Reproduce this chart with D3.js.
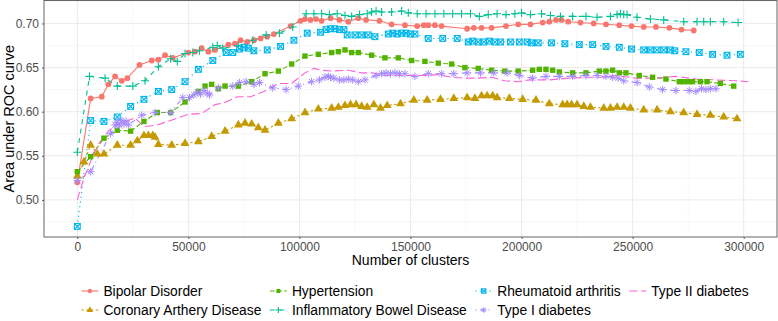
<!DOCTYPE html>
<html>
<head>
<meta charset="utf-8">
<script src="https://cdn.jsdelivr.net/npm/d3@7"></script>
<style>
  body { margin: 0; background: #fff; }
  text { font-family: "Liberation Sans", Arial, sans-serif; }
</style>
</head>
<body>
<svg id="chart" width="778" height="321"></svg>
<script>
// series values: [number of clusters, AUC]
var bipolar = [[0,.520],[6000,.615],[11000,.617],[14000,.631],[17000,.640],[20000,.635],[22500,.638],[28000,.653],[33500,.658],[36500,.659],[39500,.664],[43000,.661],[50000,.667],[53000,.668],[56000,.672],[59000,.668],[62000,.670],[68000,.676],[71000,.677],[73500,.681],[76500,.679],[79500,.681],[82500,.683],[85500,.685],[88500,.688],[96000,.697],[100500,.703],[102500,.705],[105000,.704],[107500,.705],[110000,.703],[114000,.706],[118000,.704],[122000,.702],[126500,.706],[130000,.704],[136000,.703],[141500,.699],[147500,.698],[153000,.697],[156000,.698],[158000,.698],[161000,.698],[164000,.697],[175500,.694],[178500,.695],[182000,.695],[186500,.695],[193000,.697],[198500,.699],[204000,.699],[209500,.701],[212500,.702],[215500,.704],[218000,.704],[221000,.702],[226500,.701],[232500,.700],[238000,.699],[244000,.698],[249500,.697],[255000,.696],[260500,.696],[266500,.695],[272000,.693],[277500,.692]];
var coronary = [[0,.527],[3000,.543],[6000,.562],[9000,.552],[12000,.552],[18000,.562],[24000,.562],[27000,.567],[30000,.573],[32000,.573],[34000,.573],[35000,.571],[36500,.563],[42500,.562],[48500,.564],[54500,.566],[60500,.572],[66500,.578],[72500,.585],[75500,.587],[78500,.586],[81500,.582],[84500,.579],[90500,.587],[96500,.592],[102500,.599],[108500,.603],[114500,.604],[117500,.605],[120500,.607],[123000,.608],[125500,.608],[128000,.606],[130500,.605],[133500,.608],[136500,.604],[139500,.607],[145500,.609],[151500,.613],[157500,.613],[163500,.614],[169500,.615],[175500,.616],[179000,.615],[182000,.618],[184500,.618],[187000,.618],[189000,.616],[194500,.615],[200500,.614],[206500,.613],[212500,.609],[218500,.608],[220500,.608],[222500,.608],[225000,.608],[228000,.606],[231000,.605],[237000,.604],[240000,.604],[243000,.605],[246000,.605],[249000,.604],[255000,.602],[261000,.602],[267000,.600],[273000,.599],[279000,.597],[285000,.596],[291000,.594],[297000,.592]];
var hypertension = [[0,.532],[6000,.549],[12000,.570],[18000,.579],[24000,.578],[30000,.589],[36000,.599],[42000,.599],[48500,.611],[54500,.623],[57500,.629],[60500,.631],[63500,.626],[66500,.629],[72500,.629],[78500,.634],[84500,.643],[90500,.646],[96500,.654],[102500,.663],[108500,.665],[114500,.667],[117500,.668],[120500,.670],[123500,.667],[126500,.667],[132500,.664],[138500,.661],[144500,.661],[150500,.658],[156500,.657],[162500,.655],[168500,.654],[174500,.650],[180500,.649],[186500,.647],[192500,.646],[198500,.646],[205000,.647],[208000,.648],[211000,.648],[214000,.647],[217000,.645],[223000,.644],[229000,.644],[235000,.646],[238000,.646],[241000,.647],[244000,.644],[247000,.644],[253000,.641],[259000,.639],[265000,.637],[271000,.634],[273000,.634],[275000,.634],[277000,.634],[280500,.634],[283500,.634],[289500,.632],[295500,.629]];
var ibd = [[0,.554],[5500,.640],[12500,.638],[18000,.629],[25000,.629],[30500,.635],[36500,.651],[42000,.660],[45000,.657],[48500,.666],[52000,.667],[55000,.669],[61000,.673],[63000,.675],[65500,.672],[72500,.675],[79000,.681],[85000,.687],[91000,.689],[97000,.696],[103000,.711],[106500,.711],[110000,.711],[113500,.710],[117000,.711],[120500,.709],[123500,.708],[127000,.710],[130500,.711],[132500,.713],[134500,.714],[137000,.713],[141500,.713],[146000,.714],[149000,.712],[153000,.711],[157000,.711],[161000,.711],[165000,.711],[169000,.711],[173000,.711],[177000,.711],[181000,.708],[185000,.710],[189000,.711],[193000,.710],[197000,.711],[200000,.712],[204000,.710],[209000,.711],[213000,.709],[217500,.708],[223000,.708],[229000,.708],[234000,.707],[240000,.708],[243000,.710],[244500,.711],[246000,.710],[247500,.710],[252000,.707],[258000,.705],[264000,.704],[273000,.702],[279000,.702],[282000,.702],[285000,.702],[291000,.702],[297500,.701]];
var rheumatoid = [[0,.470],[6000,.590],[12000,.589],[18000,.594],[24000,.606],[30000,.614],[36500,.623],[42500,.625],[48500,.634],[54500,.648],[61000,.658],[67000,.667],[70000,.667],[73000,.671],[75000,.673],[77000,.672],[79500,.669],[85500,.670],[91500,.674],[97500,.681],[103500,.689],[109500,.690],[112000,.693],[114000,.694],[116000,.694],[118000,.693],[120000,.693],[121500,.687],[125000,.687],[128000,.687],[131000,.687],[134000,.685],[140000,.688],[142000,.689],[144000,.688],[146000,.689],[148000,.689],[150000,.688],[152000,.688],[158000,.683],[164500,.683],[171000,.683],[176000,.679],[178000,.680],[180500,.679],[183000,.679],[185500,.680],[188000,.679],[190500,.679],[195000,.679],[199000,.679],[202500,.679],[204500,.678],[207500,.678],[213500,.678],[219500,.677],[226000,.676],[232000,.676],[238000,.674],[244000,.673],[249500,.671],[255000,.670],[258000,.670],[261000,.670],[264000,.670],[267000,.670],[269000,.669],[274000,.668],[280000,.667],[286000,.665],[292500,.664],[298500,.665]];
var type1 = [[0,.522],[6000,.532],[15000,.575],[17000,.585],[18000,.588],[19000,.584],[20000,.590],[21000,.586],[22000,.589],[23000,.585],[29000,.596],[35000,.599],[42000,.599],[47500,.616],[50500,.616],[52500,.619],[54000,.622],[55500,.620],[57000,.624],[58500,.621],[59500,.619],[63500,.627],[70000,.629],[73000,.633],[76000,.634],[79500,.631],[82000,.633],[88000,.627],[94000,.625],[99500,.629],[105500,.634],[109000,.636],[111500,.639],[113000,.640],[114000,.639],[115500,.638],[118000,.636],[120000,.636],[122000,.637],[124000,.636],[126500,.634],[129500,.636],[134500,.641],[137000,.643],[139000,.644],[141000,.643],[143000,.644],[145000,.643],[147500,.643],[152000,.640],[158000,.643],[164000,.643],[169500,.643],[175500,.644],[181500,.644],[187500,.644],[193500,.644],[199000,.641],[205000,.638],[211000,.640],[217000,.640],[223000,.640],[229000,.641],[234000,.641],[238000,.640],[241000,.639],[243500,.638],[246000,.635],[252000,.633],[257500,.628],[263500,.625],[269500,.624],[275500,.624],[278500,.623],[281000,.626],[283000,.625],[285000,.626],[287500,.626]];
var type2 = [[0,.500],[3000,.525],[7000,.550],[10000,.565],[14000,.578],[18000,.586],[23000,.590],[26000,.593],[30000,.583],[36000,.585],[42000,.590],[50000,.597],[56000,.598],[62000,.608],[66000,.610],[72000,.617],[78000,.617],[84000,.623],[90500,.632],[96500,.632],[102500,.644],[106500,.649],[110000,.647],[114500,.646],[122000,.647],[128000,.644],[132500,.644],[138500,.641],[147500,.641],[156500,.641],[162500,.642],[168500,.639],[174500,.638],[180500,.638],[186500,.639],[192500,.635],[198500,.634],[203500,.636],[212500,.636],[221500,.638],[230500,.639],[236500,.639],[242500,.641],[251500,.638],[260500,.638],[269500,.640],[278500,.637],[287500,.636],[296500,.635],[302000,.634]];

var seriesNames = ["Bipolar Disorder", "Coronary Arthery Disease", "Hypertension", "Inflammatory Bowel Disease", "Rheumatoid arthritis", "Type I diabetes", "Type II diabetes"];
var seriesData = [bipolar, coronary, hypertension, ibd, rheumatoid, type1, type2];
var colors = ["#F8766D", "#C49A00", "#53B400", "#00C094", "#00B6EB", "#A58AFF", "#FB61D7"];
var dashes = [null, "2.4,2.4", "4.8,2.4", "4.8,4.8", "1.2,3.6", "1.2,3.6,4.8,3.6", "8.4,3.6"];
var shapes = ["circle", "triangle", "square", "plus", "boxcross", "asterisk", null];

var xTicks = [0, 50000, 100000, 150000, 200000, 250000, 300000];
var yTicks = [0.50, 0.55, 0.60, 0.65, 0.70];

var margin = {top: 0.5, right: 1, bottom: 84, left: 44},
    width = 778 - margin.left - margin.right,
    height = 321 - margin.top - margin.bottom;

var svg = d3.select("#chart");
var g = svg.append("g")
    .attr("transform", "translate(" + margin.left + "," + margin.top + ")");

var x = d3.scaleLinear().domain([-15000, 315000]).range([0, width]);
var y = d3.scaleLinear().domain([0.458, 0.726]).range([height, 0]);

// minor grid
var xMinor = xTicks.slice(0, -1).map(function(d) { return d + 25000; }).concat([-25000]);
var yMinor = [0.475, 0.525, 0.575, 0.625, 0.675, 0.725];
g.selectAll(".xminor").data(xMinor.filter(function(d) { return x(d) > 0 && x(d) < width; }))
    .enter().append("line")
    .attr("x1", function(d) { return x(d); }).attr("x2", function(d) { return x(d); })
    .attr("y1", 0).attr("y2", height)
    .attr("stroke", "#F3F3F3").attr("stroke-width", 0.6);
g.selectAll(".yminor").data(yMinor.filter(function(d) { return y(d) > 0 && y(d) < height; }))
    .enter().append("line")
    .attr("x1", 0).attr("x2", width)
    .attr("y1", function(d) { return y(d); }).attr("y2", function(d) { return y(d); })
    .attr("stroke", "#F3F3F3").attr("stroke-width", 0.6);

// major grid
g.selectAll(".xgrid").data(xTicks)
    .enter().append("line")
    .attr("x1", function(d) { return x(d); }).attr("x2", function(d) { return x(d); })
    .attr("y1", 0).attr("y2", height)
    .attr("stroke", "#EBEBEB").attr("stroke-width", 1);
g.selectAll(".ygrid").data(yTicks)
    .enter().append("line")
    .attr("x1", 0).attr("x2", width)
    .attr("y1", function(d) { return y(d); }).attr("y2", function(d) { return y(d); })
    .attr("stroke", "#EBEBEB").attr("stroke-width", 1);

// axes (labels only, like ggplot theme_bw at small size)
var xAxis = g.append("g")
    .attr("transform", "translate(0," + height + ")")
    .call(d3.axisBottom(x).tickValues(xTicks).tickFormat(d3.format("d")).tickSize(2).tickPadding(3));
var yAxis = g.append("g")
    .call(d3.axisLeft(y).tickValues(yTicks).tickFormat(d3.format(".2f")).tickSize(2).tickPadding(3));
[xAxis, yAxis].forEach(function(a) {
    a.select(".domain").remove();
    a.selectAll(".tick line").attr("stroke", "#555");
    a.selectAll(".tick text")
        .attr("fill", "#4D4D4D")
        .style("font-size", "12px")
        .style("font-family", "'Liberation Sans', Arial, sans-serif");
});

// lines
var line = d3.line()
    .x(function(d) { return x(d[0]); })
    .y(function(d) { return y(d[1]); });

seriesData.forEach(function(data, i) {
    g.append("path")
        .datum(data)
        .attr("fill", "none")
        .attr("stroke", colors[i])
        .attr("stroke-width", 1.1)
        .attr("stroke-dasharray", dashes[i])
        .attr("d", line);
});

// point shapes
function drawShape(sel, shape, color, s) {
    s = s || 1;
    if (shape === "circle") {
        sel.append("circle").attr("r", 2.9 * s).attr("fill", color);
    } else if (shape === "triangle") {
        sel.append("path").attr("d", d3.symbol(d3.symbolTriangle, 34 * s * s)()).attr("fill", color);
    } else if (shape === "square") {
        sel.append("rect").attr("x", -2.7 * s).attr("y", -2.7 * s)
            .attr("width", 5.4 * s).attr("height", 5.4 * s).attr("fill", color);
    } else if (shape === "plus") {
        var r = 4 * s;
        sel.append("path").attr("d", "M" + (-r) + ",0H" + r + "M0," + (-r) + "V" + r)
            .attr("stroke", color).attr("stroke-width", 1.1).attr("fill", "none");
    } else if (shape === "boxcross") {
        var b = 2.9 * s;
        sel.append("rect").attr("x", -b).attr("y", -b).attr("width", 2 * b).attr("height", 2 * b)
            .attr("fill", "none").attr("stroke", color).attr("stroke-width", 1.1);
        sel.append("path").attr("d", "M" + (-b) + "," + (-b) + "L" + b + "," + b + "M" + (-b) + "," + b + "L" + b + "," + (-b))
            .attr("stroke", color).attr("stroke-width", 1.1);
    } else if (shape === "asterisk") {
        var a = 3.8 * s, c = a * 0.72;
        sel.append("path").attr("d", "M" + (-a) + ",0H" + a + "M0," + (-a) + "V" + a +
                "M" + (-c) + "," + (-c) + "L" + c + "," + c + "M" + (-c) + "," + c + "L" + c + "," + (-c))
            .attr("stroke", color).attr("stroke-width", 1).attr("fill", "none");
    }
}

seriesData.forEach(function(data, i) {
    if (!shapes[i]) return;
    g.append("g").selectAll("g")
        .data(data)
        .enter().append("g")
        .attr("transform", function(d) { return "translate(" + x(d[0]) + "," + y(d[1]) + ")"; })
        .each(function() { drawShape(d3.select(this), shapes[i], colors[i]); });
});

// panel border
g.append("rect")
    .attr("x", 0).attr("y", 0).attr("width", width).attr("height", height)
    .attr("fill", "none").attr("stroke", "#666").attr("stroke-width", 1);

// axis titles
svg.append("text")
    .attr("x", margin.left + width / 2).attr("y", 265)
    .attr("text-anchor", "middle")
    .style("font-size", "14px").attr("fill", "#000")
    .text("Number of clusters");
svg.append("text")
    .attr("transform", "translate(14," + (margin.top + height / 2) + ") rotate(-90)")
    .attr("text-anchor", "middle")
    .style("font-size", "14.5px").attr("fill", "#000")
    .text("Area under ROC curve");

// legend: 2 rows, filled by column
var legend = svg.append("g");
var nrow = 2, keyW = 17, keyGap = 5, colGap = 8.5;
var rowY = [291, 310];
var ncol = Math.ceil(seriesNames.length / nrow);
var items = seriesNames.map(function(name, i) {
    return {name: name, i: i, col: Math.floor(i / nrow), row: i % nrow};
});
var texts = legend.selectAll("text").data(items).enter().append("text")
    .style("font-size", "13.8px").attr("fill", "#000")
    .attr("dy", "0.35em")
    .text(function(d) { return d.name; });
var colW = [];
texts.each(function(d) {
    var w = this.getComputedTextLength();
    colW[d.col] = Math.max(colW[d.col] || 0, w);
});
var colX = [], total = 0;
for (var c = 0; c < ncol; c++) {
    colX.push(total);
    total += keyW + keyGap + colW[c] + (c < ncol - 1 ? colGap : 0);
}
var startX = 415 - total / 2;
texts.attr("x", function(d) { return startX + colX[d.col] + keyW + keyGap; })
    .attr("y", function(d) { return rowY[d.row]; });

items.forEach(function(d) {
    var kx = startX + colX[d.col], ky = rowY[d.row];
    legend.append("line")
        .attr("x1", kx).attr("x2", kx + keyW).attr("y1", ky).attr("y2", ky)
        .attr("stroke", colors[d.i]).attr("stroke-width", 1.1)
        .attr("stroke-dasharray", dashes[d.i]);
    if (shapes[d.i]) {
        var kg = legend.append("g").attr("transform", "translate(" + (kx + keyW / 2) + "," + ky + ")");
        drawShape(kg, shapes[d.i], colors[d.i], 0.75);
    }
});
</script>
</body>
</html>
